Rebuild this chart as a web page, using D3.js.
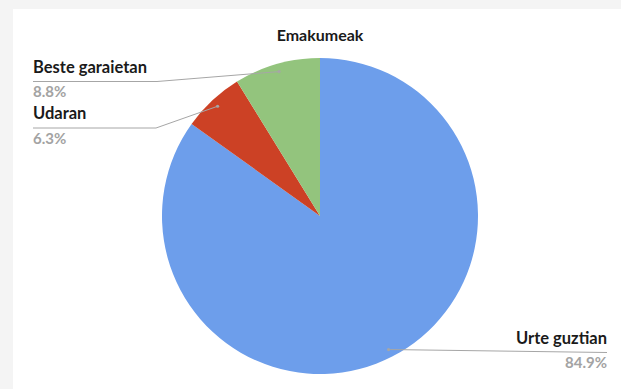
<!DOCTYPE html>
<html>
<head>
<meta charset="utf-8">
<script src="https://cdn.jsdelivr.net/npm/d3@7"></script>
<style>
  html, body { margin: 0; padding: 0; background: #f4f4f4; }
  svg { display: block; }
  text { font-family: Lato, "Open Sans", sans-serif; }
</style>
</head>
<body>
<svg id="chart" width="621" height="389"></svg>
<script>
// Share of the year, women
const categories = ["Urte guztian", "Udaran", "Beste garaietan"];
const values = [84.9, 6.3, 8.8];
const valueLabels = ["84.9%", "6.3%", "8.8%"];
const colors = ["#6d9eeb", "#cc4125", "#93c47d"];
const title = "Emakumeak";

const svg = d3.select("#chart");
const W = 621, H = 389;

// white card
svg.append("rect").attr("x", 13).attr("y", 9).attr("width", W - 13).attr("height", H - 9).attr("fill", "#ffffff");

const cx = 320, cy = 216, R = 158;

svg.append("text")
  .attr("x", cx).attr("y", 41)
  .attr("text-anchor", "middle")
  .attr("font-size", 16).attr("font-weight", 700).attr("fill", "#1a1a1a")
  .text(title);

const data = categories.map((c, i) => ({ name: c, value: values[i], label: valueLabels[i], color: colors[i] }));

const pie = d3.pie().value(d => d.value).sort(null).startAngle(0).endAngle(2 * Math.PI);
const arcs = pie(data);
const arc = d3.arc().innerRadius(0).outerRadius(R);

const g = svg.append("g").attr("transform", `translate(${cx},${cy})`);
g.selectAll("path").data(arcs).enter().append("path")
  .attr("d", arc)
  .attr("fill", d => d.data.color);

// leader lines & labels
const anchorR = R * 0.95;
const pt = a => [cx + anchorR * Math.sin(a), cy - anchorR * Math.cos(a)];

// label placement: side, line y, line x-range
const placement = {
  "Beste garaietan": { side: "left", y: 81.5, x0: 33, elbow: 157 },
  "Udaran": { side: "left", y: 128, x0: 33, elbow: 156 },
  "Urte guztian": { side: "right", y: 352.5, x0: 607, elbow: null }
};

const lab = svg.append("g");
arcs.forEach(a => {
  const p = placement[a.data.name];
  const mid = (a.startAngle + a.endAngle) / 2;
  const [px, py] = pt(mid);
  let pts;
  if (p.side === "left") {
    pts = [[p.x0, p.y], [p.elbow, p.y], [px, py]];
  } else {
    pts = [[px, py], [p.x0, p.y]];
  }
  lab.append("path")
    .attr("d", d3.line()(pts))
    .attr("fill", "none").attr("stroke", "#a6a6a6").attr("stroke-width", 1);
  lab.append("circle").attr("cx", px).attr("cy", py).attr("r", 1.6).attr("fill", "#a6a6a6");

  const anchor = p.side === "left" ? "start" : "end";
  lab.append("text")
    .attr("x", p.x0).attr("y", p.y - 9)
    .attr("text-anchor", anchor)
    .attr("font-size", 16.5).attr("font-weight", 700).attr("fill", "#1a1a1a")
    .text(a.data.name);
  lab.append("text")
    .attr("x", p.x0).attr("y", p.y + 15.5)
    .attr("text-anchor", anchor)
    .attr("font-size", 15).attr("font-weight", 700).attr("fill", "#a3a3a3")
    .text(a.data.label);
});
</script>
</body>
</html>
